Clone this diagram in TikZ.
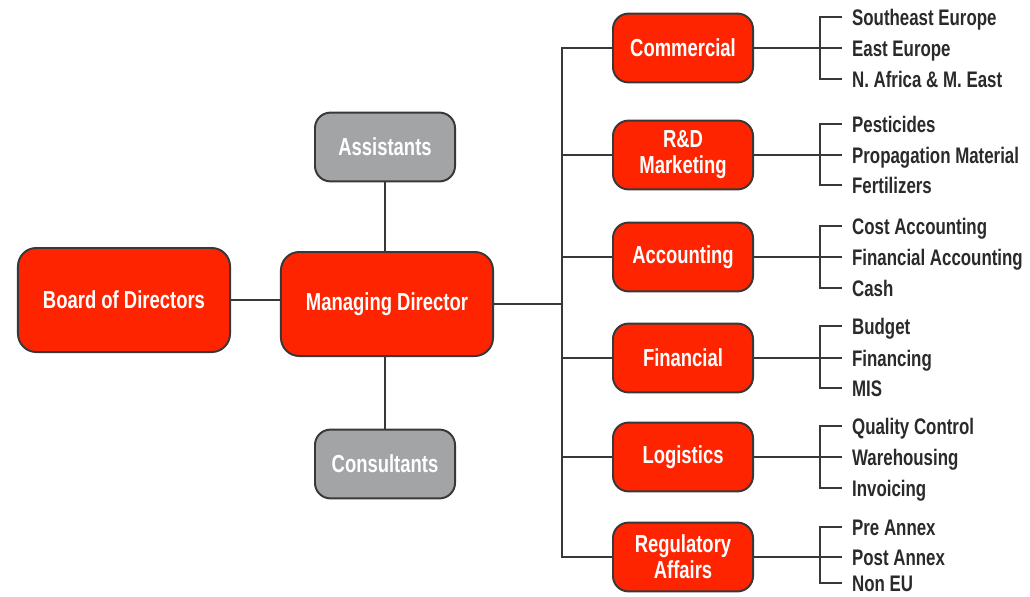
\documentclass[tikz,border=0pt]{standalone}
\usepackage{fontspec}
\setmainfont{Liberation Sans}[FakeStretch=0.75]
\usetikzlibrary{positioning}
\definecolor{boxred}{HTML}{FF2400}
\definecolor{boxgray}{HTML}{A2A4A6}
\definecolor{linegray}{HTML}{383838}
\definecolor{itemgray}{HTML}{2A2A2A}
\tikzstyle{unit} = [draw=linegray, line width=1.4pt, rounded corners=11pt, fill=boxred, text=white, font=\fontsize{17.5}{18.5}\selectfont\bfseries, align=center]
\tikzstyle{bigunit} = [unit, minimum width=5.3cm, minimum height=2.6cm, rounded corners=13pt]
\tikzstyle{dept} = [unit, minimum width=3.5cm, minimum height=1.72cm]
\tikzstyle{staff} = [dept, fill=boxgray]
\tikzstyle{item} = [anchor=west, inner xsep=7pt, inner ysep=0pt, text height=11.5pt, text depth=0pt, text=itemgray, font=\fontsize{16}{18}\selectfont\bfseries]
\tikzstyle{wire} = [draw=linegray, line width=1.4pt]

\begin{document}
\begin{tikzpicture}[x=0.025cm, y=-0.025cm]
\useasboundingbox (0,0) rectangle (1030,597);

% left part
\node[bigunit] (board) at (124,300) {Board of Directors};
\node[bigunit] (md) at (387,304) {Managing Director};
\node[staff] (assist) at (385,147) {Assistants};
\node[staff] (consult) at (385,464) {Consultants};
\coordinate (trunk) at (562,302);

\draw[wire] (board.east) -- (board.east -| md.west);
\draw[wire] (assist.south) -- (assist.south |- md.north);
\draw[wire] (consult.north) -- (consult.north |- md.south);
\draw[wire] (md.east) -- (md.east -| trunk);

% departments
\node[dept] (com) at (683,48) {Commercial};
\node[dept] (rd) at (683,155) {R\&D\\Marketing};
\node[dept] (acc) at (683,257) {Accounting};
\node[dept] (fin) at (683,358) {Financial};
\node[dept] (log) at (683,457) {Logistics};
\node[dept] (reg) at (683,557) {Regulatory\\Affairs};

\draw[wire] (com.west) -| (trunk) |- (reg.west);
\draw[wire] (rd.west) -- (rd.west -| trunk);
\draw[wire] (acc.west) -- (acc.west -| trunk);
\draw[wire] (fin.west) -- (fin.west -| trunk);
\draw[wire] (log.west) -- (log.west -| trunk);

% sub units
\node[item] (com1) at (842,17) {Southeast Europe};
\node[item] (com2) at (842,48) {East Europe};
\node[item] (com3) at (842,79) {N. Africa \& M. East};
\node[item] (rd1) at (842,124) {Pesticides};
\node[item] (rd2) at (842,155) {Propagation Material};
\node[item] (rd3) at (842,185) {Fertilizers};
\node[item] (acc1) at (842,226) {Cost Accounting};
\node[item] (acc2) at (842,257) {Financial Accounting};
\node[item] (acc3) at (842,288) {Cash};
\node[item] (fin1) at (842,326) {Budget};
\node[item] (fin2) at (842,358) {Financing};
\node[item] (fin3) at (842,388) {MIS};
\node[item] (log1) at (842,426) {Quality Control};
\node[item] (log2) at (842,457) {Warehousing};
\node[item] (log3) at (842,488) {Invoicing};
\node[item] (reg1) at (842,527) {Pre Annex};
\node[item] (reg2) at (842,557) {Post Annex};
\node[item] (reg3) at (842,583) {Non EU};

\coordinate (comb) at (820,48);
\coordinate (rdb) at (820,155);
\coordinate (accb) at (820,257);
\coordinate (finb) at (820,358);
\coordinate (logb) at (820,457);
\coordinate (regb) at (820,557);

\draw[wire] (com.east) -- (comb) -- (com2.west);
\draw[wire] (com1.west) -| (comb) |- (com3.west);
\draw[wire] (rd.east) -- (rdb) -- (rd2.west);
\draw[wire] (rd1.west) -| (rdb) |- (rd3.west);
\draw[wire] (acc.east) -- (accb) -- (acc2.west);
\draw[wire] (acc1.west) -| (accb) |- (acc3.west);
\draw[wire] (fin.east) -- (finb) -- (fin2.west);
\draw[wire] (fin1.west) -| (finb) |- (fin3.west);
\draw[wire] (log.east) -- (logb) -- (log2.west);
\draw[wire] (log1.west) -| (logb) |- (log3.west);
\draw[wire] (reg.east) -- (regb) -- (reg2.west);
\draw[wire] (reg1.west) -| (regb) |- (reg3.west);
\end{tikzpicture}
\end{document}
